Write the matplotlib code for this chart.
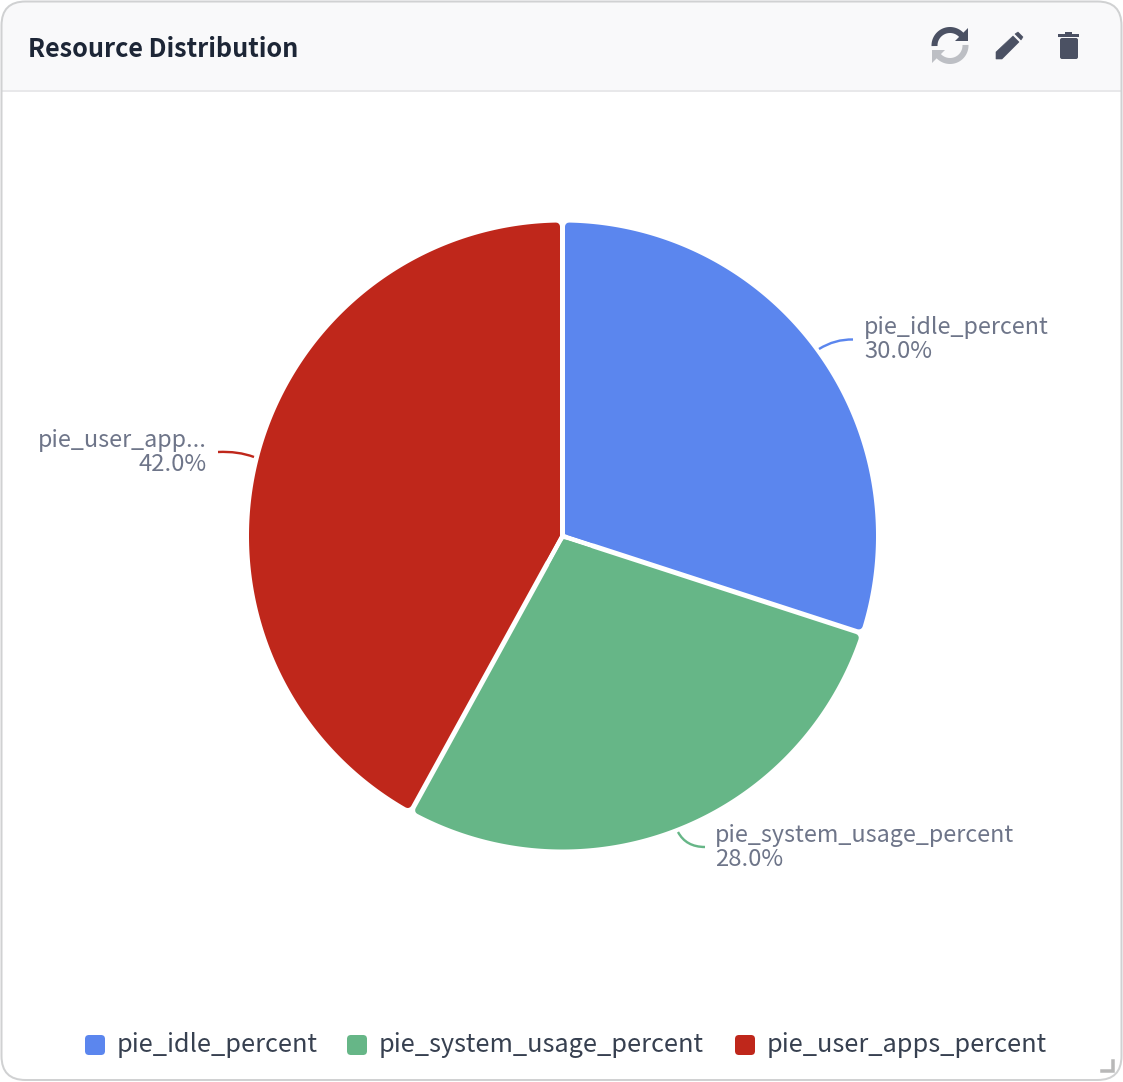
"""
resource distribution card: a pie with leader-line labels, a legend row
and the header with its action icons

saves out.png
"""

import matplotlib
matplotlib.use("Agg")
import matplotlib.pyplot as plt
import numpy as np
from matplotlib.patches import FancyBboxPatch, PathPatch, Polygon, Rectangle
from matplotlib.path import Path

title = "Resource Distribution"
series_names = ["pie_idle_percent", "pie_system_usage_percent", "pie_user_apps_percent"]
short_names = ["pie_idle_percent", "pie_system_usage_percent", "pie_user_app..."]
values = [30.0, 28.0, 42.0]
colors = ["#5b86ee", "#66b687", "#bf271b"]

width, height = 1123, 1082
cx, cy, radius = 562.5, 536.0, 313.5
gap = 2.5  # half of the white space between slices
corner = 4.0  # rounding on the slice corners

label_color = "#6e7589"
legend_color = "#374050"
icon_color = "#4b5163"
font = ["Noto Sans CJK SC", "DejaVu Sans"]


def px(n):
    # line widths are in points, the layout is in pixels
    return n * 72 / 100


def polar(angle, r):
    # the y axis points down here, so sin gets flipped
    return cx + r * np.cos(angle), cy - r * np.sin(angle)


def draw_slice(ax, start, end, color):
    # inset the slice, then stroke it in its own colour to get round corners
    inset = gap + corner
    mid = (start + end) / 2
    half = abs(start - end) / 2
    r = radius - corner
    delta = np.arcsin(inset / r)
    tip = polar(mid, inset / np.sin(half))
    arc = np.linspace(start - delta, end + delta, 200)
    xs, ys = polar(arc, r)
    pts = np.vstack([[tip], np.column_stack([xs, ys])])
    ax.add_patch(Polygon(pts, closed=True, facecolor=color, edgecolor=color,
                         linewidth=px(2 * corner), joinstyle="round", zorder=3))

    # the middle point stays sharp, so fill it back in without a stroke
    sharp = np.array(polar(mid, gap / np.sin(half)))
    along = [sharp + 30 * np.array([np.cos(a), -np.sin(a)]) for a in (start, end)]
    ax.add_patch(Polygon([sharp, along[0], along[1]], closed=True, facecolor=color,
                         edgecolor="none", zorder=3))


def leader(ax, start, ctrl, end, color):
    path = Path([start, ctrl, end], [Path.MOVETO, Path.CURVE3, Path.CURVE3])
    ax.add_patch(PathPatch(path, fill=False, edgecolor=color, linewidth=px(2.4), zorder=4))


def refresh_half(ax, flip, color):
    # one arc with its arrow head, the other half is the same thing turned around
    ang = np.radians(np.linspace(182, 28, 60))
    xs = 15.5 * np.cos(ang)
    ys = -15.5 * np.sin(ang)
    head = np.array([[18, -17.5], [18, -4.5], [5, -4.5]])
    sign = -1 if flip else 1
    ax.plot(950 + sign * xs, 45.5 + sign * ys, color=color, lw=px(6),
            solid_capstyle="butt", zorder=5)
    ax.add_patch(Polygon(np.array([950, 45.5]) + sign * head, closed=True,
                         facecolor=color, edgecolor="none", zorder=5))


def draw_icons(ax):
    refresh_half(ax, False, icon_color)
    refresh_half(ax, True, "#bdbfc4")

    # pencil
    ax.add_patch(Polygon([(996, 59), (996, 52), (1013, 36), (1019, 42), (1002, 59)],
                         closed=True, facecolor=icon_color, edgecolor=icon_color,
                         linewidth=px(0.6), joinstyle="round", zorder=5))
    ax.add_patch(Polygon([(1015, 34), (1018, 32), (1023, 37), (1021, 40)],
                         closed=True, facecolor=icon_color, edgecolor=icon_color,
                         linewidth=px(0.6), joinstyle="round", zorder=5))

    # bin
    ax.add_patch(Rectangle((1058, 33.5), 21, 3.5, facecolor=icon_color, zorder=5))
    ax.add_patch(Rectangle((1065, 31.5), 7, 2.5, facecolor=icon_color, zorder=5))
    ax.add_patch(FancyBboxPatch((1062, 40), 14, 17, boxstyle="round,pad=2,rounding_size=2",
                                facecolor=icon_color, edgecolor="none", zorder=5))


def main():
    fig = plt.figure(figsize=(width / 100, height / 100), dpi=100, facecolor="white")
    ax = fig.add_axes([0, 0, 1, 1])
    ax.set_xlim(0, width)
    ax.set_ylim(height, 0)
    ax.axis("off")

    # card outline and header band
    box = dict(boxstyle="round,pad=0,rounding_size=24")
    card = FancyBboxPatch((1.5, 1.5), width - 3, height - 3.5, facecolor="white",
                          edgecolor="none", zorder=2, **box)
    ax.add_patch(card)
    band = Rectangle((1, 1), width - 2, 89, facecolor="#f9f9fa", edgecolor="none", zorder=2.1)
    ax.add_patch(band)
    band.set_clip_path(card)
    ax.plot([3, width - 3], [90.5, 90.5], color="#e8e8ea", lw=px(2), zorder=2.2)
    ax.add_patch(FancyBboxPatch((1.5, 1.5), width - 3, height - 3.5, facecolor="none",
                                edgecolor="#d0d1d2", linewidth=px(2), zorder=2.3, **box))

    ax.text(28, 57, title, fontsize=px(25.2), fontweight="bold", color="#1d2636",
            family=font, zorder=5)
    draw_icons(ax)

    # slices go clockwise from twelve o'clock
    edges = np.pi / 2 - np.radians(np.cumsum([0] + values) * 3.6)
    for i, color in enumerate(colors):
        draw_slice(ax, edges[i], edges[i + 1], color)

    # name over percentage next to each leader line
    label_at = [(864, 334, "left"), (715, 842, "left"), (207, 447, "right")]
    for name, val, (x, y, ha) in zip(short_names, values, label_at):
        ax.text(x, y, name, fontsize=px(23.3), color=label_color, ha=ha, family=font, zorder=6)
        ax.text(x, y + 24, f"{val:.1f}%", fontsize=px(23.8), color=label_color, ha=ha,
                family=font, zorder=6)

    leader(ax, (819, 349), (835, 339), (853, 339.5), colors[0])
    leader(ax, (678, 832), (686, 847), (705, 847), colors[1])
    leader(ax, (218, 452), (238, 451), (254, 457), colors[2])

    # legend row
    swatch_x = [85, 347, 735]
    for name, color, x in zip(series_names, colors, swatch_x):
        ax.add_patch(FancyBboxPatch((x + 3, 1038), 14, 14,
                                    boxstyle="round,pad=3,rounding_size=4",
                                    facecolor=color, edgecolor="none", zorder=5))
        ax.text(x + 32, 1052, name, fontsize=px(25.3), color=legend_color, family=font, zorder=5)

    # resize handle in the corner
    ax.plot([1102, 1112.5, 1112.5], [1070.5, 1070.5, 1061], color="#b8b8b8", lw=px(3.5),
            solid_joinstyle="miter", zorder=5)

    fig.savefig("out.png", dpi=100, facecolor="white")


if __name__ == "__main__":
    main()
